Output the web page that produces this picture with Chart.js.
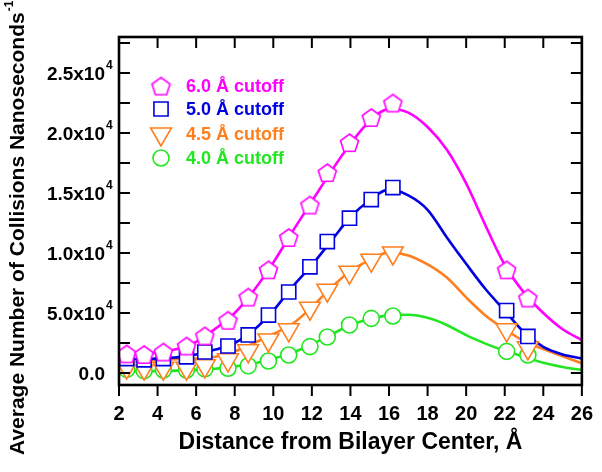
<!DOCTYPE html>
<html>
<head>
<meta charset="utf-8">
<script src="https://cdn.jsdelivr.net/npm/chart.js@4.4.1/dist/chart.umd.min.js"></script>
<style>
  html, body { margin: 0; padding: 0; background: #fff; }
  #wrap { width: 602px; height: 472px; }
</style>
</head>
<body>
<div id="wrap"><canvas id="collisionChart" width="602" height="472"></canvas></div>
<script>
// Distance from bilayer center (Å) of the simulated points
const distance = [2.4, 3.3, 4.3, 5.5, 6.45, 7.65, 8.7, 9.75, 10.8, 11.9, 12.8, 13.95, 15.08, 16.2, 22.1, 23.2];

// Average collisions per ns, one list per cutoff
const cut60 = [1600, 1550, 1750, 2250, 3100, 4400, 6330, 8600, 11300, 14000, 16700, 19200, 21300, 22500, 8600, 6250];
const cut50 = [1200, 1100, 1200, 1350, 1750, 2250, 3170, 4830, 6750, 8850, 10950, 12900, 14450, 15450, 5200, 3050];
const cut45 = [500, 400, 400, 400, 600, 1100, 1850, 2750, 3600, 5400, 6900, 8400, 9400, 10000, 3600, 2100];
const cut40 = [300, 200, 250, 250, 350, 400, 600, 1000, 1500, 2200, 3000, 4000, 4550, 4750, 1800, 1500];

// Fitted curves
const fitX = [2, 3, 4, 5, 6, 7, 8, 9, 10, 11, 12, 13, 14, 15, 16, 17, 18, 19, 20, 21, 22, 23, 24, 25, 26];
const fit60 = [1650, 1600, 1700, 2000, 2600, 3700, 5000, 6900, 9200, 11800, 14300, 16800, 19100, 21000, 22000, 21700, 20500, 18600, 15800, 12300, 9000, 6700, 5000, 3650, 2750];
const fit50 = [1200, 1150, 1200, 1300, 1550, 1950, 2500, 3600, 5200, 7200, 9000, 11000, 13000, 14400, 15300, 14800, 13600, 11300, 9100, 7000, 5200, 3400, 2180, 1550, 1220];
const fit45 = [1100, 1100, 1100, 1150, 1200, 1350, 1800, 2500, 3250, 4100, 5500, 7100, 8500, 9400, 10050, 9800, 9050, 7950, 6300, 4800, 3650, 2650, 2000, 1400, 810];
const fit40 = [200, 150, 150, 200, 250, 350, 550, 800, 1200, 1700, 2400, 3200, 4000, 4500, 4800, 4850, 4600, 4000, 3150, 2450, 1850, 1350, 850, 500, 250];

const seriesLabels = ["6.0 Å cutoff", "5.0 Å cutoff", "4.5 Å cutoff", "4.0 Å cutoff"];

// Axis ticks
const xTicks = [2, 4, 6, 8, 10, 12, 14, 16, 18, 20, 22, 24, 26];
const yTicks = [0, 5000, 10000, 15000, 20000, 25000];
const yTickBase = ["0.0", "5.0x10", "1.0x10", "1.5x10", "2.0x10", "2.5x10"];
const yTickExp = ["", "4", "4", "4", "4", "4"];
const yTitle = "Average Number of Collisions Nanoseconds";
const yTitleExp = "-1";

const FONT = "'Liberation Sans', Arial, Helvetica, sans-serif";
const colors = ["#ff00ff", "#0000e0", "#ff7f1e", "#22e622"];

function toPoints(xs, ys) {
  return xs.map(function (x, i) { return { x: x, y: ys[i] }; });
}

// pentagon marker as a small canvas (no built-in pentagon style)
function makePentagon(color, r) {
  const c = document.createElement("canvas");
  const s = Math.ceil(r * 2 + 4);
  c.width = s;
  c.height = s;
  const g = c.getContext("2d");
  g.beginPath();
  for (let i = 0; i < 5; i++) {
    const a = -Math.PI / 2 + i * 2 * Math.PI / 5;
    const px = s / 2 + r * Math.cos(a);
    const py = s / 2 + 1 + r * Math.sin(a);
    if (i === 0) g.moveTo(px, py); else g.lineTo(px, py);
  }
  g.closePath();
  g.fillStyle = "#fff";
  g.fill();
  g.lineWidth = 1.6;
  g.strokeStyle = color;
  g.stroke();
  return c;
}

const pentagon = makePentagon(colors[0], 9.5);

const markerStyles = [
  { pointStyle: pentagon, radius: 10, rotation: 0 },
  { pointStyle: "rect", radius: 10, rotation: 0 },
  { pointStyle: "triangle", radius: 12, rotation: 180 },
  { pointStyle: "circle", radius: 8, rotation: 0 },
];

const dataSets = [cut60, cut50, cut45, cut40];
const fitSets = [fit60, fit50, fit45, fit40];

const datasets = [];
fitSets.forEach(function (fit, i) {
  datasets.push({
    label: seriesLabels[i] + " fit",
    data: toPoints(fitX, fit),
    showLine: true,
    borderColor: colors[i],
    borderWidth: 2.6,
    pointRadius: 0,
    cubicInterpolationMode: "monotone",
    order: 10 + i,
  });
});
dataSets.forEach(function (vals, i) {
  const m = markerStyles[i];
  datasets.push({
    label: seriesLabels[i],
    data: toPoints(distance, vals),
    showLine: false,
    borderColor: colors[i],
    backgroundColor: "#fff",
    borderWidth: 1.6,
    pointStyle: m.pointStyle,
    pointRadius: m.radius,
    pointRotation: m.rotation,
    order: i,
  });
});

// frame, inward ticks, y labels with superscripts, y title, legend
const decorations = {
  id: "decorations",
  afterDraw: function (chart) {
    const ctx = chart.ctx;
    const area = chart.chartArea;
    const xs = chart.scales.x;
    const ys = chart.scales.y;
    ctx.save();
    ctx.strokeStyle = "#000";
    ctx.lineWidth = 2;

    // top ticks inward, bottom ticks outward
    xTicks.forEach(function (v) {
      const px = xs.getPixelForValue(v);
      ctx.beginPath();
      ctx.moveTo(px, area.top);
      ctx.lineTo(px, area.top + 11);
      ctx.moveTo(px, area.bottom);
      ctx.lineTo(px, area.bottom + 11);
      ctx.stroke();
    });

    // left/right ticks inward, majors and halfway minors
    const half = (yTicks[1] - yTicks[0]) / 2;
    yTicks.forEach(function (t) {
      [t, t + half].forEach(function (v) {
        if (v > ys.max) return;
        const py = ys.getPixelForValue(v);
        ctx.beginPath();
        ctx.moveTo(area.left, py);
        ctx.lineTo(area.left + 11, py);
        ctx.moveTo(area.right, py);
        ctx.lineTo(area.right - 11, py);
        ctx.stroke();
      });
    });

    ctx.lineWidth = 2.6;
    ctx.strokeRect(area.left, area.top, area.right - area.left, area.bottom - area.top);

    // y tick labels
    ctx.fillStyle = "#000";
    yTicks.forEach(function (v, k) {
      const py = ys.getPixelForValue(v);
      ctx.font = "bold 19px " + FONT;
      ctx.textAlign = "right";
      ctx.textBaseline = "middle";
      ctx.fillText(yTickBase[k], area.left - 14, py + 2);
      if (yTickExp[k]) {
        ctx.font = "bold 12px " + FONT;
        ctx.textAlign = "left";
        ctx.fillText(yTickExp[k], area.left - 13, py - 7);
      }
    });

    // y title, rotated, starting near the bottom of the canvas
    ctx.save();
    ctx.translate(18, 455);
    ctx.rotate(-Math.PI / 2);
    ctx.font = "bold 21px " + FONT;
    ctx.textAlign = "left";
    ctx.textBaseline = "middle";
    ctx.fillText(yTitle, 0, 0);
    const w = ctx.measureText(yTitle).width;
    ctx.font = "bold 12px " + FONT;
    ctx.fillText(yTitleExp, w + 1, -8);
    ctx.restore();

    // legend
    const lx = area.left + 42;
    const rowY = [area.top + 49, area.top + 72, area.top + 97, area.top + 121];
    seriesLabels.forEach(function (label, i) {
      const m = markerStyles[i];
      ctx.strokeStyle = colors[i];
      ctx.fillStyle = "#fff";
      ctx.lineWidth = 1.6;
      Chart.helpers.drawPoint(ctx, {
        pointStyle: m.pointStyle,
        radius: m.radius,
        rotation: m.rotation,
        borderWidth: 1.6,
      }, lx, rowY[i]);
      ctx.font = "bold 18px " + FONT;
      ctx.textAlign = "left";
      ctx.textBaseline = "middle";
      ctx.fillStyle = colors[i];
      ctx.fillText(label, lx + 25, rowY[i] + 1);
    });
    ctx.restore();
  },
};

new Chart(document.getElementById("collisionChart").getContext("2d"), {
  type: "scatter",
  data: { datasets: datasets },
  options: {
    responsive: false,
    animation: false,
    layout: { padding: { top: 37, right: 18, left: 0, bottom: 0 } },
    plugins: {
      legend: { display: false },
      tooltip: { enabled: false },
    },
    scales: {
      x: {
        type: "linear",
        min: 2,
        max: 26,
        grid: { display: false },
        border: { display: false },
        afterFit: function (scale) { scale.height = 87; },
        afterBuildTicks: function (scale) {
          scale.ticks = xTicks.map(function (v) { return { value: v }; });
        },
        ticks: {
          color: "#000",
          padding: 9,
          font: { family: FONT, size: 20, weight: "bold" },
          maxRotation: 0,
        },
        title: {
          display: true,
          text: "Distance from Bilayer Center, Å",
          color: "#000",
          font: { family: FONT, size: 23, weight: "bold" },
          padding: { top: 0, bottom: 16 },
        },
      },
      y: {
        type: "linear",
        min: -1000,
        max: 28000,
        grid: { display: false },
        border: { display: false },
        afterFit: function (scale) { scale.width = 119; },
        afterBuildTicks: function (scale) {
          scale.ticks = yTicks.map(function (v) { return { value: v }; });
        },
        ticks: { display: false },
      },
    },
  },
  plugins: [decorations],
});
</script>
</body>
</html>
